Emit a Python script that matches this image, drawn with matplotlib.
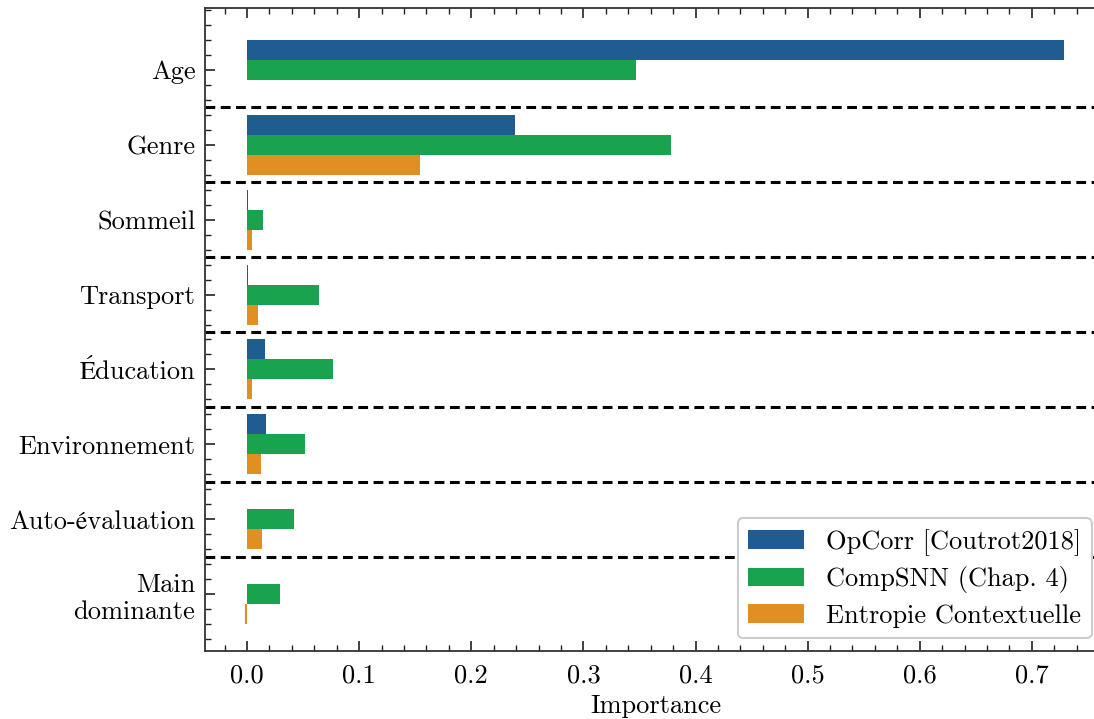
import numpy as np
import matplotlib.pyplot as plt
from matplotlib.ticker import MultipleLocator

plt.rcParams['font.family'] = ['cmr10', 'STIXGeneral', 'DejaVu Serif']
plt.rcParams['mathtext.fontset'] = 'cm'
plt.rcParams['axes.formatter.use_mathtext'] = True
plt.rcParams['font.size'] = 19

# features, top to bottom
features = ['Age', 'Genre', 'Sommeil', 'Transport', 'Éducation',
            'Environnement', 'Auto-évaluation', 'Main\ndominante']
methods = ['OpCorr [Coutrot2018]', 'CompSNN (Chap. 4)', 'Entropie Contextuelle']
opcorr = [0.729, 0.239, 0.001, 0.001, 0.016, 0.017, 0.0, 0.0]
compsnn = [0.347, 0.378, 0.014, 0.064, 0.077, 0.052, 0.042, 0.029]
entropie = [0.0, 0.154, 0.0045, 0.010, 0.0045, 0.0125, 0.013, -0.0015]
colors = ['#1f5c91', '#1aa34e', '#e08f20']

fig = plt.figure(figsize=(10.94, 7.19), dpi=100)
ax = fig.add_axes([205/1094, 68/719, 902/1094, 643/719])

y = np.arange(len(features))
h = 0.8/3
for k, (vals, lab, c) in enumerate(zip([opcorr, compsnn, entropie], methods, colors)):
    ax.barh(y + (k - 1)*h, vals, height=h, color=c, label=lab)

# separators between groups
for s in y[:-1] + 0.5:
    ax.axhline(s, color='black', ls='--', lw=2.2, dashes=(3.2, 1.8))

ax.set_yticks(y)
ax.set_yticklabels(features)
ax.set_ylim(7.76, -0.827)
ax.set_xlim(-0.0375, 0.767)
ax.xaxis.set_major_locator(MultipleLocator(0.1))
ax.xaxis.set_minor_locator(MultipleLocator(0.02))
ax.yaxis.set_minor_locator(MultipleLocator(0.2))
ax.xaxis.set_major_formatter(plt.FuncFormatter(lambda v, p: f'{v:.1f}'))
ax.tick_params(which='both', direction='in', top=True, right=False, color='#222222')
ax.tick_params(which='major', length=7, width=1.2)
ax.tick_params(which='minor', length=4, width=1.0)
ax.tick_params(axis='x', pad=9)
ax.tick_params(axis='y', pad=7)
ax.spines['right'].set_visible(False)
for sp in ax.spines.values():
    sp.set_linewidth(1.3)
    sp.set_color('#333333')
ax.set_xlabel('Importance', labelpad=5)

leg = ax.legend(loc='lower right', bbox_to_anchor=(0.983, 0.02), borderaxespad=0,
                fancybox=True, framealpha=1, edgecolor='#cccccc',
                handlelength=2.1, handleheight=0.7, borderpad=0.4,
                labelspacing=0.4, handletextpad=0.85)
leg.get_frame().set_linewidth(1.5)

fig.savefig('out.png', dpi=100)
